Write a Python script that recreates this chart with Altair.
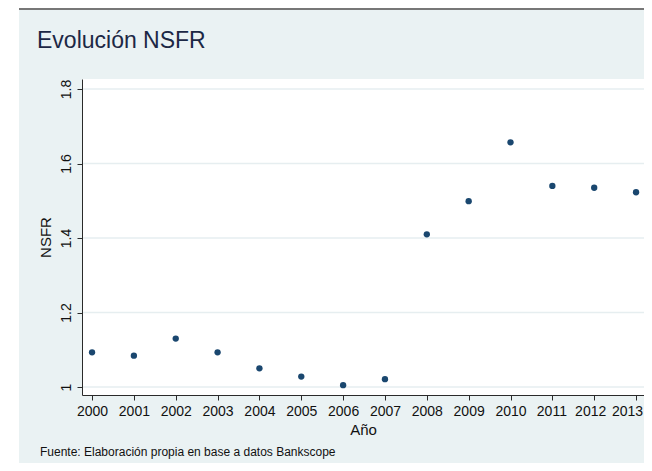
import altair as alt
import pandas as pd

# ---- data ----
years = list(range(2000, 2014))
nsfr = [1.093, 1.084, 1.130, 1.093, 1.050, 1.028, 1.005, 1.021,
        1.410, 1.499, 1.657, 1.540, 1.535, 1.523]
y_ticks = [1.0, 1.2, 1.4, 1.6, 1.8]
title_text = "Evolución NSFR"
note_text = "Fuente: Elaboración propia en base a datos Bankscope"
x_title = "Año"
y_title = "NSFR"

# ---- layout / style ----
W, H = 562, 316
FONT = "Liberation Sans"
BG = "#EAF2F3"
GRID = "#E6EEF0"
NAVY = "#1A476F"
AXIS = "#2a2a2a"

df = pd.DataFrame({"year": years, "nsfr": nsfr})
grid_df = pd.DataFrame({"nsfr": y_ticks})
one = pd.DataFrame({"k": [0]})

xscale = alt.Scale(domain=[1999.76, 2013.19], nice=False, zero=False)
yscale = alt.Scale(domain=[0.9785, 1.827], nice=False, zero=False)

y_axis = alt.Axis(values=y_ticks, title=y_title, format="~g",
                  labelAngle=-90, labelAlign="center",
                  labelBaseline="bottom",
                  labelFontSize=14, titleFontSize=15,
                  labelPadding=4, titlePadding=6, tickSize=5,
                  labelFlush=False, labelOverlap=False,
                  grid=False, zindex=1)
# the last labels are nudged left so that "2013" stays inside the page
x_label_offset = {
    "condition": [
        {"test": "datum.value == 2013", "value": -9},
        {"test": "datum.value == 2012", "value": -4},
        {"test": "datum.value == 2011", "value": -1},
    ],
    "value": 0,
}
x_axis = alt.Axis(values=years, format="d", title=x_title,
                  labelFontSize=14, titleFontSize=15,
                  labelPadding=4, titlePadding=4, tickSize=5,
                  labelOffset=x_label_offset,
                  labelFlush=False, labelOverlap=False,
                  grid=False, zindex=1)

bg = alt.Chart(one).mark_rect(color=BG, clip=False).encode(
    x=alt.value(-63), x2=alt.value(570), y=alt.value(-69), y2=alt.value(400)
)
topline = alt.Chart(one).mark_rule(color="#4a4a4a", strokeWidth=1.5).encode(
    x=alt.value(-63), x2=alt.value(570), y=alt.value(-70)
)
plotbg = alt.Chart(one).mark_rect(color="white").encode(
    x=alt.value(0), x2=alt.value(W), y=alt.value(0), y2=alt.value(H)
)
grid = alt.Chart(grid_df).mark_rule(color=GRID, strokeWidth=1.5).encode(
    y=alt.Y("nsfr:Q", scale=yscale, axis=y_axis)
)

points = alt.Chart(df).mark_point(filled=True, shape="circle", size=40,
                                  color=NAVY, opacity=1).encode(
    x=alt.X("year:Q", scale=xscale, axis=x_axis),
    y=alt.Y("nsfr:Q", scale=yscale, axis=y_axis),
)

title = alt.Chart(one).mark_text(text=title_text, align="left",
                                 baseline="alphabetic", fontSize=23,
                                 font=FONT, color="#1c2845").encode(
    x=alt.value(-45), y=alt.value(-31)
)
note = alt.Chart(one).mark_text(text=note_text, align="left",
                                baseline="alphabetic", fontSize=12,
                                font=FONT, color="#111111").encode(
    x=alt.value(-42), y=alt.value(377)
)

chart = alt.layer(bg, topline, plotbg, grid, points, title, note).properties(
    width=W, height=H,
    background="white",
    padding={"left": 74, "top": 71, "right": 0, "bottom": 68},
    autosize=alt.AutoSizeParams(type="none"),
).configure_view(stroke=None).configure_axis(
    labelFont=FONT, titleFont=FONT, labelColor="#111111",
    titleColor="#111111", domainColor=AXIS, tickColor=AXIS,
    domainWidth=1, tickWidth=1, titleFontWeight="normal",
)

chart.save("out.html", embed_options={"renderer": "svg", "actions": False})
